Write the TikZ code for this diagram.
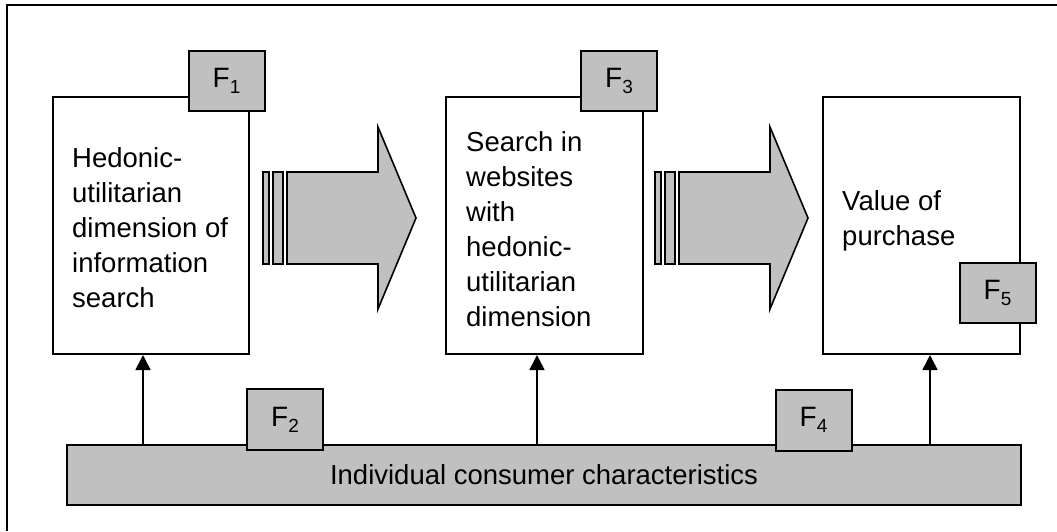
\documentclass[tikz,border=0pt]{standalone}
\usepackage{fontspec}
\setmainfont{Liberation Sans}
\usetikzlibrary{arrows.meta}
\definecolor{boxgray}{RGB}{192,192,192}
\newcommand{\Fsub}[1]{F\raisebox{-6pt}{\fontsize{19}{19}\selectfont #1}}
\tikzset{
  mainbox/.style={draw=black, line width=2pt, fill=white, inner sep=0pt},
  fbox/.style={draw=black, line width=2pt, fill=boxgray, inner sep=0pt,
    minimum width=76pt, minimum height=60pt, font=\fontsize{28}{35}\selectfont},
  txt/.style={align=left, inner sep=0pt, font=\fontsize{27.5}{35}\selectfont},
  upar/.style={line width=1.6pt, -{Triangle[width=15pt,length=15pt]}},
  bigarrow/.style={draw=black, line width=1.6pt, fill=boxgray, line join=miter},
}
\begin{document}
\begin{tikzpicture}[x=1pt,y=-1pt]
\useasboundingbox (0,0) rectangle (1057,531);
% outer frame (only left and top edges visible)
\draw[line width=2pt] (7,531) -- (7,5) -- (1057,5);

% main boxes
\node[mainbox, minimum width=196pt, minimum height=257pt] (box1) at (151,225.5) {};
\node[mainbox, minimum width=197pt, minimum height=257pt] (box2) at (544.5,225.5) {};
\node[mainbox, minimum width=197pt, minimum height=257pt] (box3) at (921.5,225.5) {};

\node[txt, anchor=west] (t1) at (72,228) {Hedonic-\\utilitarian\\dimension of\\information\\search};
\node[txt, anchor=west] (t2) at (466,229) {Search in\\websites\\with\\hedonic-\\utilitarian\\dimension};
\node[txt, anchor=west] (t3) at (842,221) {Value of\\purchase};

% big arrows
\foreach \dx/\nm in {0/a, 392/b}{
  \begin{scope}[xshift=\dx]
    \draw[bigarrow] (263,172) rectangle (269,264);
    \draw[bigarrow] (273,172) rectangle (283,264);
    \draw[bigarrow] (287,172) -- (378,172) -- (378,127) -- (416,218) -- (378,309) -- (378,264) -- (287,264) -- cycle;
  \end{scope}
}

% bottom bar
\node[mainbox, fill=boxgray, minimum width=954pt, minimum height=60pt,
  font=\fontsize{27.5}{35}\selectfont] (bar) at (544,475) {Individual consumer characteristics};

% F boxes
\node[fbox] (f1) at (226.5,81) {\Fsub{1}};
\node[fbox] (f3) at (619,81) {\Fsub{3}};
\node[fbox] (f5) at (997.5,293) {\Fsub{5}};
\node[fbox, minimum height=61pt] (f2) at (285,419.5) {\Fsub{2}};
\node[fbox, minimum height=61pt] (f4) at (813.5,420) {\Fsub{4}};

% upward arrows
\coordinate (x1) at (143,0);
\coordinate (x2) at (537,0);
\coordinate (x3) at (930,0);
\draw[upar] (bar.north -| x1) -- (box1.south -| x1);
\draw[upar] (bar.north -| x2) -- (box2.south -| x2);
\draw[upar] (bar.north -| x3) -- (box3.south -| x3);
\end{tikzpicture}
\end{document}
